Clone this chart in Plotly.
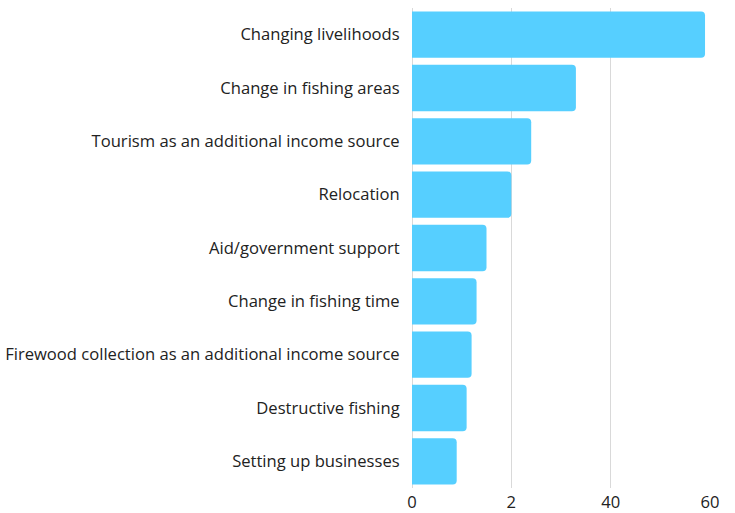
import plotly.graph_objects as go

categories = [
    "Changing livelihoods",
    "Change in fishing areas",
    "Tourism as an additional income source",
    "Relocation",
    "Aid/government support",
    "Change in fishing time",
    "Firewood collection as an additional income source",
    "Destructive fishing",
    "Setting up businesses",
]
values = [59, 33, 24, 20, 15, 13, 12, 11, 9]
tick_vals = [0, 20, 40, 60]
tick_text = ["0", "2", "40", "60"]

fig = go.Figure(
    go.Bar(
        x=values,
        y=categories,
        orientation="h",
        marker=dict(color="#56CFFF", cornerradius=4, line=dict(width=0)),
        hoverinfo="x+y",
    )
)

fig.update_layout(
    width=735,
    height=513,
    margin=dict(l=412, r=25, t=8, b=25),
    paper_bgcolor="white",
    plot_bgcolor="white",
    bargap=0.13,
    showlegend=False,
    font=dict(family="'Open Sans', sans-serif", size=16.6, color="#222222"),
    xaxis=dict(
        range=[0, 60],
        tickvals=tick_vals,
        ticktext=tick_text,
        showgrid=True,
        gridcolor="#d9d9d9",
        gridwidth=1,
        zeroline=True,
        zerolinecolor="#d9d9d9",
        zerolinewidth=1,
        showline=False,
        ticks="",
        ticklabelstandoff=2,
        automargin=False,
        tickfont=dict(size=16.6, color="#222222"),
        fixedrange=True,
    ),
    yaxis=dict(
        categoryorder="array",
        categoryarray=categories[::-1],
        showgrid=False,
        showline=False,
        ticks="outside",
        ticklen=8,
        tickcolor="rgba(0,0,0,0)",
        automargin=False,
        tickfont=dict(size=16.6, color="#222222"),
        fixedrange=True,
    ),
)

fig.write_html("out.html")
